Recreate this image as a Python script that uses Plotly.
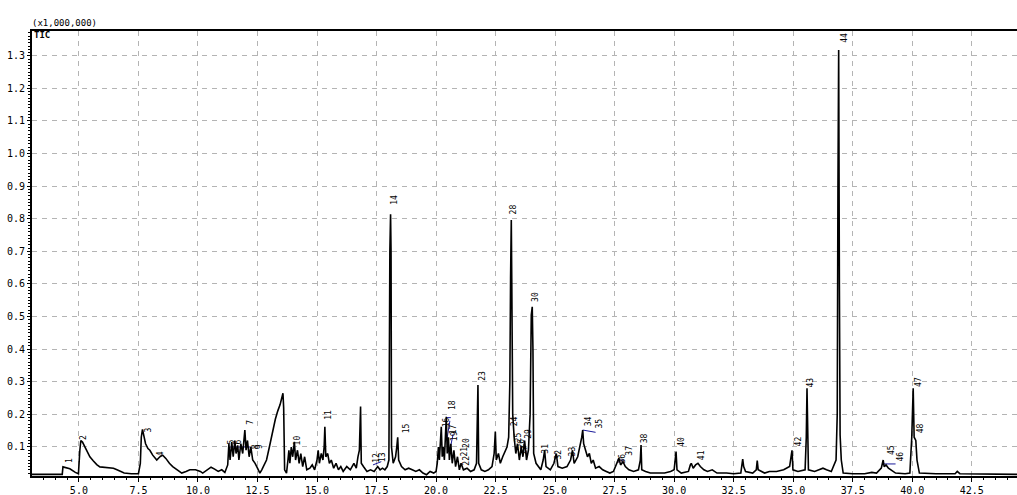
import plotly.graph_objects as go

# Total ion chromatogram: retention time (min) vs. intensity (x1,000,000)
rt = [
    3.03, 4.30, 4.33, 4.50, 4.62, 4.85, 4.98,
    5.04, 5.08, 5.15, 5.25, 5.35, 5.46, 5.60, 5.75, 5.88, 6.10, 6.30, 6.45, 6.60, 6.72, 6.90, 7.20, 7.50,
    7.58, 7.62, 7.67, 7.72, 7.80, 7.90, 7.98, 8.10, 8.20, 8.27, 8.40, 8.52, 8.65, 8.80, 8.94, 9.10, 9.32,
    9.50, 9.66, 9.90, 10.10, 10.20, 10.40, 10.55, 10.70, 10.85, 11.00, 11.13,
    11.25, 11.30, 11.35, 11.42, 11.48, 11.55, 11.60, 11.67, 11.72, 11.80, 11.88, 11.97, 12.02, 12.08,
    12.15, 12.22, 12.30, 12.40, 12.50, 12.60,
    12.68, 12.88, 13.00, 13.14, 13.25, 13.35, 13.45, 13.57, 13.60, 13.64, 13.72,
    13.78, 13.82, 13.86, 13.92, 13.98, 14.05, 14.10, 14.18, 14.25, 14.32, 14.40, 14.48, 14.57, 14.70,
    14.80, 14.90, 15.00, 15.05, 15.10, 15.18, 15.25,
    15.30, 15.33, 15.37, 15.45, 15.52, 15.60, 15.70, 15.80, 15.90, 16.00, 16.10, 16.25, 16.40, 16.55,
    16.65, 16.72, 16.78,
    16.83, 16.86, 16.95, 17.10, 17.25, 17.40, 17.55, 17.65, 17.75, 17.85, 17.95, 18.02,
    18.06, 18.09, 18.11, 18.13, 18.20, 18.30, 18.35,
    18.39, 18.43, 18.55, 18.70, 18.85, 19.00, 19.15, 19.30, 19.45, 19.60, 19.75, 19.90, 20.00,
    20.05, 20.10, 20.14, 20.18, 20.22, 20.26, 20.30, 20.35, 20.40, 20.43, 20.47, 20.52, 20.56, 20.62,
    20.68, 20.75, 20.82, 20.90, 20.98, 21.05, 21.15, 21.30, 21.45, 21.60, 21.70,
    21.76, 21.79, 21.90, 22.05, 22.20, 22.35, 22.44,
    22.49, 22.53, 22.62, 22.70, 22.80, 22.90, 22.98, 23.05,
    23.10, 23.13, 23.16, 23.18, 23.22, 23.28, 23.35, 23.42, 23.50, 23.58, 23.65, 23.72, 23.80, 23.88, 23.95,
    24.00, 24.04, 24.07, 24.10, 24.20, 24.30, 24.40, 24.50, 24.56, 24.62, 24.80, 24.95, 25.05, 25.12,
    25.30, 25.50, 25.65, 25.73, 25.80, 25.95, 26.05,
    26.12, 26.16, 26.20, 26.28, 26.36, 26.44, 26.52, 26.60, 26.70, 26.85, 27.00, 27.15, 27.30, 27.45,
    27.55, 27.62, 27.68, 27.75, 27.85, 27.95, 28.10, 28.30, 28.50,
    28.58, 28.61, 28.64, 28.80, 29.00, 29.30, 29.60, 29.85, 30.00,
    30.08, 30.12, 30.30, 30.60, 30.68, 30.72, 30.80, 30.90, 31.00, 31.10, 31.25, 31.40, 31.60, 31.80,
    32.20, 32.50, 32.80,
    32.88, 32.92, 33.00, 33.30, 33.45, 33.49, 33.53, 33.80, 34.00, 34.30, 34.60, 34.85,
    34.95, 34.99, 35.20, 35.50,
    35.55, 35.58, 35.61, 35.64, 35.90, 36.10, 36.25, 36.40, 36.60, 36.80,
    36.85, 36.88, 36.91, 36.94, 36.97, 37.02, 37.10, 37.50, 38.00, 38.30, 38.50, 38.70,
    38.78, 38.82, 38.90, 39.00, 39.10, 39.30, 39.70, 39.90,
    39.98, 40.04, 40.08, 40.15, 40.20, 40.30, 41.00, 41.80, 41.89, 42.00, 44.40,
]
tic = [
    0.016, 0.016, 0.039, 0.036, 0.033, 0.022, 0.018,
    0.090, 0.120, 0.115, 0.100, 0.085, 0.070, 0.058, 0.046, 0.039, 0.037, 0.036, 0.035, 0.030, 0.026, 0.020, 0.018, 0.018,
    0.050, 0.130, 0.154, 0.140, 0.110, 0.095, 0.090, 0.075, 0.065, 0.060, 0.070, 0.075, 0.065, 0.050, 0.040, 0.032, 0.020,
    0.025, 0.030, 0.030, 0.025, 0.020, 0.030, 0.038, 0.032, 0.025, 0.030, 0.022,
    0.045, 0.110, 0.060, 0.115, 0.070, 0.120, 0.080, 0.105, 0.060, 0.110, 0.080, 0.152, 0.090, 0.120,
    0.070, 0.100, 0.060, 0.050, 0.035, 0.020,
    0.030, 0.060, 0.100, 0.152, 0.185, 0.210, 0.230, 0.265, 0.220, 0.030, 0.020,
    0.060, 0.090, 0.050, 0.100, 0.070, 0.116, 0.060, 0.090, 0.050, 0.080, 0.040, 0.070, 0.030, 0.035,
    0.045, 0.030, 0.060, 0.090, 0.050, 0.080, 0.060,
    0.100, 0.162, 0.070, 0.080, 0.050, 0.060, 0.035, 0.050, 0.030, 0.040, 0.025, 0.040, 0.030, 0.050,
    0.035, 0.070, 0.090,
    0.224, 0.050, 0.040, 0.025, 0.030, 0.025, 0.040, 0.030, 0.035, 0.030, 0.040, 0.060,
    0.700, 0.814, 0.700, 0.100, 0.050, 0.070, 0.100,
    0.130, 0.060, 0.040, 0.030, 0.035, 0.030, 0.025, 0.030, 0.020, 0.015, 0.025, 0.020, 0.025,
    0.050, 0.100, 0.060, 0.130, 0.162, 0.070, 0.100, 0.060, 0.150, 0.193, 0.080, 0.130, 0.060, 0.110,
    0.050, 0.090, 0.040, 0.070, 0.030, 0.050, 0.030, 0.035, 0.025, 0.030, 0.050,
    0.290, 0.050, 0.030, 0.025, 0.030, 0.040, 0.080,
    0.147, 0.060, 0.080, 0.050, 0.070, 0.090, 0.100, 0.130,
    0.300, 0.617, 0.796, 0.617, 0.200, 0.130, 0.080, 0.110, 0.060, 0.100, 0.070, 0.120, 0.060, 0.090, 0.200,
    0.505, 0.530, 0.400, 0.080, 0.050, 0.040, 0.030, 0.060, 0.090, 0.040, 0.030, 0.050, 0.080, 0.040,
    0.035, 0.040, 0.060, 0.090, 0.050, 0.070, 0.100,
    0.130, 0.152, 0.110, 0.090, 0.070, 0.080, 0.050, 0.060, 0.035, 0.040, 0.030, 0.025, 0.020, 0.025,
    0.040, 0.055, 0.066, 0.045, 0.055, 0.040, 0.030, 0.025, 0.030,
    0.060, 0.106, 0.030, 0.025, 0.020, 0.020, 0.020, 0.025, 0.030,
    0.086, 0.030, 0.020, 0.025, 0.045, 0.050, 0.035, 0.045, 0.050, 0.040, 0.030, 0.025, 0.030, 0.020,
    0.020, 0.018, 0.020,
    0.063, 0.040, 0.025, 0.020, 0.030, 0.058, 0.030, 0.020, 0.025, 0.025, 0.030, 0.040,
    0.090, 0.030, 0.025, 0.030,
    0.130, 0.280, 0.130, 0.030, 0.025, 0.030, 0.035, 0.030, 0.025, 0.060,
    0.200, 0.900, 1.318, 0.600, 0.137, 0.060, 0.020, 0.018, 0.018, 0.022, 0.020, 0.035,
    0.060, 0.040, 0.045, 0.035, 0.030, 0.020, 0.018, 0.020,
    0.130, 0.280, 0.130, 0.120, 0.060, 0.020, 0.018, 0.018, 0.025, 0.018, 0.016,
]

# Peak number labels: position (retention time, intensity) and peak number
peak_no = [1, 2, 3, 4, 5, 6, 7, 8, 9, 10, 11, 12, 13, 14, 15, 16, 17, 18, 19, 20, 21, 22, 23,
           24, 25, 26, 27, 28, 29, 30, 31, 32, 33, 34, 35, 36, 37, 38, 40, 41, 42, 43, 44,
           45, 46, 47, 48]
label_rt = [4.60, 5.22, 7.92, 8.44, 11.40, 11.70, 12.20, 12.45, 12.62, 14.20, 15.48, 17.49, 17.76,
            18.26, 18.75, 20.45, 20.72, 20.66, 20.78, 21.25, 21.20, 21.30, 21.95,
            23.33, 23.45, 23.60, 23.72, 23.25, 23.90, 24.15, 24.62, 25.14, 25.73, 26.44, 26.86,
            27.83, 28.12, 28.75, 30.33, 31.13, 35.23, 35.74, 37.17, 39.10, 39.52, 40.29, 40.36]
label_val = [0.058, 0.128, 0.152, 0.080, 0.115, 0.115, 0.175, 0.100, 0.100, 0.120, 0.200, 0.068, 0.068,
             0.857, 0.158, 0.175, 0.155, 0.228, 0.132, 0.112, 0.085, 0.058, 0.320,
             0.180, 0.130, 0.110, 0.090, 0.830, 0.140, 0.560, 0.095, 0.078, 0.088, 0.180, 0.173,
             0.066, 0.090, 0.128, 0.116, 0.075, 0.116, 0.297, 1.355, 0.090, 0.070, 0.300, 0.157]

# Leader lines joining crowded labels to their peaks
leader_rt = [11.35, 12.20, None, 20.43, 20.62, None, 20.58, 20.45, None, 20.72, 20.55, None,
             26.16, 26.70, None, 27.62, 27.90, None, 38.78, 39.30, None, 17.35, 17.70]
leader_val = [0.100, 0.100, None, 0.190, 0.190, None, 0.180, 0.120, None, 0.140, 0.080, None,
              0.152, 0.145, None, 0.060, 0.060, None, 0.048, 0.048, None, 0.045, 0.055]

x_ticks = [5.0, 7.5, 10.0, 12.5, 15.0, 17.5, 20.0, 22.5, 25.0, 27.5, 30.0, 32.5, 35.0, 37.5, 40.0, 42.5]
y_ticks = [0.1, 0.2, 0.3, 0.4, 0.5, 0.6, 0.7, 0.8, 0.9, 1.0, 1.1, 1.2, 1.3]

fig = go.Figure()
fig.add_trace(go.Scatter(x=leader_rt, y=leader_val, mode="lines",
                         line=dict(color="#1a1a9a", width=1), hoverinfo="skip"))
fig.add_trace(go.Scatter(x=rt, y=tic, mode="lines",
                         line=dict(color="black", width=1.6), hoverinfo="skip"))

for n, t, v in zip(peak_no, label_rt, label_val):
    fig.add_annotation(x=t, y=v, text=str(n), showarrow=False, textangle=-90,
                       font=dict(family="DejaVu Sans Mono", size=8, color="black"))

fig.add_annotation(xref="paper", yref="paper", x=0, y=1, xanchor="left", yanchor="bottom",
                   xshift=-2, yshift=1, text="(x1,000,000)", showarrow=False,
                   font=dict(family="DejaVu Sans Mono", size=9, color="black"))
fig.add_annotation(xref="paper", yref="paper", x=0, y=1, xanchor="left", yanchor="middle",
                   xshift=0, yshift=-4, text="<b>TIC</b>", showarrow=False,
                   font=dict(family="DejaVu Sans Mono", size=9, color="black"))

grid = dict(showgrid=True, gridcolor="#b4b4b4", gridwidth=1, griddash="5px,5px")
fig.update_xaxes(range=[3.03, 44.4], tickvals=x_ticks, ticktext=[f"{v:.1f}" for v in x_ticks],
                 automargin=False,
                 showline=True, linecolor="black", linewidth=2, mirror=True,
                 ticks="outside", ticklen=4, tickcolor="black",
                 minor=dict(ticks="outside", dtick=0.5, ticklen=2, tickcolor="black", showgrid=False),
                 tickfont=dict(family="DejaVu Sans Mono", size=10, color="black"),
                 zeroline=False, **grid)
fig.update_yaxes(range=[0.011, 1.376], tickvals=y_ticks, ticktext=[f"{v:.1f}" for v in y_ticks],
                 automargin=False,
                 showline=True, linecolor="black", linewidth=2,
                 ticks="outside", ticklen=3, tickcolor="black",
                 minor=dict(ticks="outside", dtick=0.01, ticklen=2, tickcolor="black", showgrid=False),
                 tickfont=dict(family="DejaVu Sans Mono", size=10, color="black"),
                 zeroline=False, **grid)

fig.update_layout(width=1017, height=495, margin=dict(l=32, r=0, t=31, b=19),
                  paper_bgcolor="white", plot_bgcolor="white", showlegend=False)

fig.write_html("out.html")
